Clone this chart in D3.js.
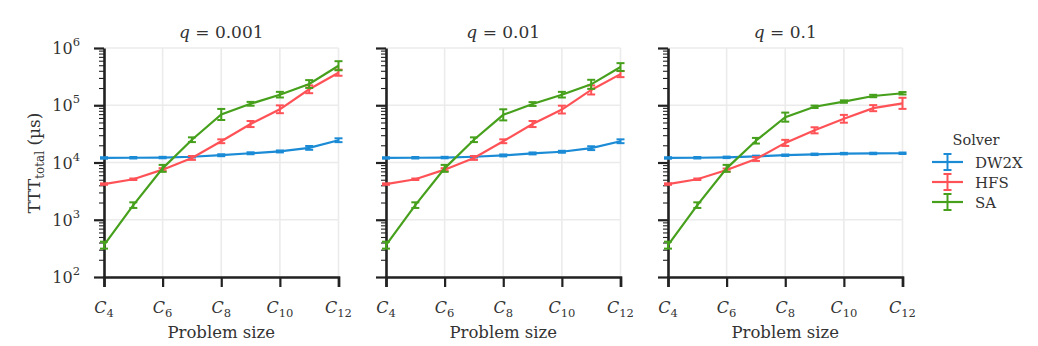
<!DOCTYPE html>
<html><head><meta charset="utf-8">
<script src="https://cdn.jsdelivr.net/npm/d3@7"></script>
<style>
body{margin:0;background:#fff;}
</style></head>
<body><svg id="c" width="1038" height="346"></svg>
<script>
// ---- data ----
const sizes = [4,5,6,7,8,9,10,11,12];
const xTickSizes = [4,6,8,10,12];
const panelTitles = ["0.001","0.01","0.1"];
const solvers = ["DW2X","HFS","SA"];
const yTickPowers = [2,3,4,5,6];

// q = 0.001
const dw2x_q001 = [12000,12100,12200,12600,13400,14500,15600,18000,24500];
const hfs_q001  = [4200,5100,7500,12000,23500,47000,85000,190000,370000];
const sa_q001   = [360,1800,7900,25000,69000,106000,153000,235000,490000];
const dw2x_q001_err = [0.03,0.03,0.03,0.03,0.04,0.04,0.04,0.08,0.08];
const hfs_q001_err  = [0.03,0.03,0.06,0.08,0.08,0.13,0.17,0.17,0.13];
const sa_q001_err   = [0.15,0.12,0.15,0.1,0.25,0.08,0.12,0.17,0.2];

// q = 0.01
const dw2x_q01 = [12000,12100,12200,12600,13300,14400,15400,17800,23500];
const hfs_q01  = [4200,5100,7500,12000,23500,47000,84000,185000,350000];
const sa_q01   = [360,1800,7900,25000,68000,105000,153000,232000,465000];
const dw2x_q01_err = [0.03,0.03,0.03,0.03,0.04,0.04,0.04,0.08,0.08];
const hfs_q01_err  = [0.03,0.03,0.06,0.08,0.08,0.13,0.17,0.2,0.13];
const sa_q01_err   = [0.15,0.12,0.15,0.1,0.25,0.08,0.12,0.2,0.17];

// q = 0.1
const dw2x_q1 = [12000,12100,12300,12800,13400,13900,14300,14400,14500];
const hfs_q1  = [4200,5100,7400,11500,22000,36500,58000,89000,108000];
const sa_q1   = [360,1800,7900,24000,62000,94000,116000,145000,162000];
const dw2x_q1_err = [0.03,0.03,0.03,0.03,0.03,0.03,0.03,0.03,0.03];
const hfs_q1_err  = [0.03,0.03,0.06,0.08,0.13,0.13,0.17,0.13,0.25];
const sa_q1_err   = [0.15,0.12,0.15,0.12,0.2,0.05,0.05,0.05,0.05];

const colors = ["#1b8bd6","#ff5257","#46a01c"];

const panels = [
  {q:panelTitles[0], series:[dw2x_q001,hfs_q001,sa_q001], errs:[dw2x_q001_err,hfs_q001_err,sa_q001_err]},
  {q:panelTitles[1], series:[dw2x_q01,hfs_q01,sa_q01], errs:[dw2x_q01_err,hfs_q01_err,sa_q01_err]},
  {q:panelTitles[2], series:[dw2x_q1,hfs_q1,sa_q1], errs:[dw2x_q1_err,hfs_q1_err,sa_q1_err]},
];

// ---- layout ----
const FONT = "'DejaVu Serif', serif";
const svg = d3.select("#c");
const left0 = 104, panelW = 234.5, gap = 47.5, plotTop = 48, plotBottom = 277;
const y = d3.scaleLog().domain([1e2,1e6]).range([plotBottom, plotTop]);
const minorTicks = y.ticks();
const isMajor = d => Math.abs(Math.log10(d)-Math.round(Math.log10(d)))<1e-9;
const txt = (sel) => sel.append("text").attr("font-family", FONT).style("font-family", FONT).attr("fill","#333");

panels.forEach((p, i) => {
  const x0 = left0 + i*(panelW+gap);
  const x = d3.scaleLinear().domain([4,12]).range([x0, x0+panelW]);
  const g = svg.append("g");

  // grid
  g.selectAll(".gx").data(xTickSizes).join("line")
    .attr("x1", d=>x(d)).attr("x2", d=>x(d)).attr("y1", plotTop).attr("y2", plotBottom)
    .attr("stroke","#ebebeb").attr("stroke-width",1.6);
  g.selectAll(".gy").data(yTickPowers).join("line")
    .attr("x1", x0).attr("x2", x0+panelW).attr("y1", d=>y(Math.pow(10,d))).attr("y2", d=>y(Math.pow(10,d)))
    .attr("stroke","#ebebeb").attr("stroke-width",1.6);

  // y axis
  const yAxis = d3.axisLeft(y).tickValues(minorTicks).tickFormat("").tickSizeOuter(0);
  const ya = g.append("g").attr("transform",`translate(${x0},0)`).call(yAxis);
  ya.select(".domain").attr("stroke","#222").attr("stroke-width",2.6);
  ya.selectAll(".tick line").attr("stroke","#222")
    .attr("stroke-width", d => isMajor(d) ? 2.2 : 1.1)
    .attr("x2", d => isMajor(d) ? -10 : -5);
  if (i===0) {
    yTickPowers.forEach(pw10 => {
      const t = txt(g).attr("x", x0-24).attr("y", y(Math.pow(10,pw10))+6)
        .attr("text-anchor","end").style("font-size","16px");
      t.append("tspan").text("10");
      t.append("tspan").attr("dy",-8).style("font-size","11.5px").text(pw10);
    });
  }

  // x axis
  const xAxis = d3.axisBottom(x).tickValues(xTickSizes).tickFormat("").tickSizeOuter(0).tickSize(10);
  const xa = g.append("g").attr("transform",`translate(0,${plotBottom})`).call(xAxis);
  xa.select(".domain").attr("stroke","#222").attr("stroke-width",2.6);
  xa.selectAll(".tick line").attr("stroke","#222").attr("stroke-width",2.2);
  xTickSizes.forEach(s => {
    const t = txt(g).attr("x", x(s)).attr("y", 313).attr("text-anchor","middle").style("font-size","16px");
    t.append("tspan").style("font-style","italic").text("C");
    t.append("tspan").attr("dy",4).style("font-size","11.5px").text(s);
  });
  txt(g).attr("x", x0+panelW/2).attr("y", 338).attr("text-anchor","middle")
    .style("font-size","16.5px").text("Problem size");

  // title
  const tt = txt(g).attr("x", x0+panelW/2).attr("y", 38).attr("text-anchor","middle").style("font-size","17px");
  tt.append("tspan").style("font-style","italic").text("q");
  tt.append("tspan").text(" = " + p.q);

  // series
  const line = d3.line().x((d,j)=>x(sizes[j])).y(d=>y(d));
  p.series.forEach((vals, k) => {
    const c = colors[k];
    g.append("path").datum(vals).attr("d", line).attr("fill","none")
      .attr("stroke", c).attr("stroke-width",2.2);
    const eb = g.append("g");
    vals.forEach((v, j) => {
      const e = p.errs[k][j];
      const xx = x(sizes[j]), yl = y(v/(1+e)), yh = y(v*(1+e));
      eb.append("line").attr("x1",xx).attr("x2",xx).attr("y1",yl).attr("y2",yh).attr("stroke",c).attr("stroke-width",2);
      [yl,yh].forEach(yy => eb.append("line").attr("x1",xx-4).attr("x2",xx+4).attr("y1",yy).attr("y2",yy)
        .attr("stroke",c).attr("stroke-width",2));
    });
  });
});

// y label
const ylab = txt(svg).attr("transform","translate(40,163) rotate(-90)")
  .attr("text-anchor","middle").style("font-size","17px");
ylab.append("tspan").text("TTT");
ylab.append("tspan").attr("dy",4).style("font-size","12px").text("total");
ylab.append("tspan").attr("dy",-4).text(" (µs)");

// legend
const lg = svg.append("g");
txt(lg).attr("x", 976).attr("y", 145).attr("text-anchor","middle").style("font-size","14.5px").text("Solver");
solvers.forEach((s, k) => {
  const yy = 162 + k*20, c = colors[k];
  lg.append("line").attr("x1",932).attr("x2",963).attr("y1",yy).attr("y2",yy).attr("stroke",c).attr("stroke-width",2.2);
  lg.append("line").attr("x1",947.5).attr("x2",947.5).attr("y1",yy-8).attr("y2",yy+8).attr("stroke",c).attr("stroke-width",2);
  [yy-8,yy+8].forEach(v => lg.append("line").attr("x1",943.5).attr("x2",951.5).attr("y1",v).attr("y2",v).attr("stroke",c).attr("stroke-width",2));
  txt(lg).attr("x",975).attr("y",yy+5.5).style("font-size","15px").text(s);
});
</script></body></html>
